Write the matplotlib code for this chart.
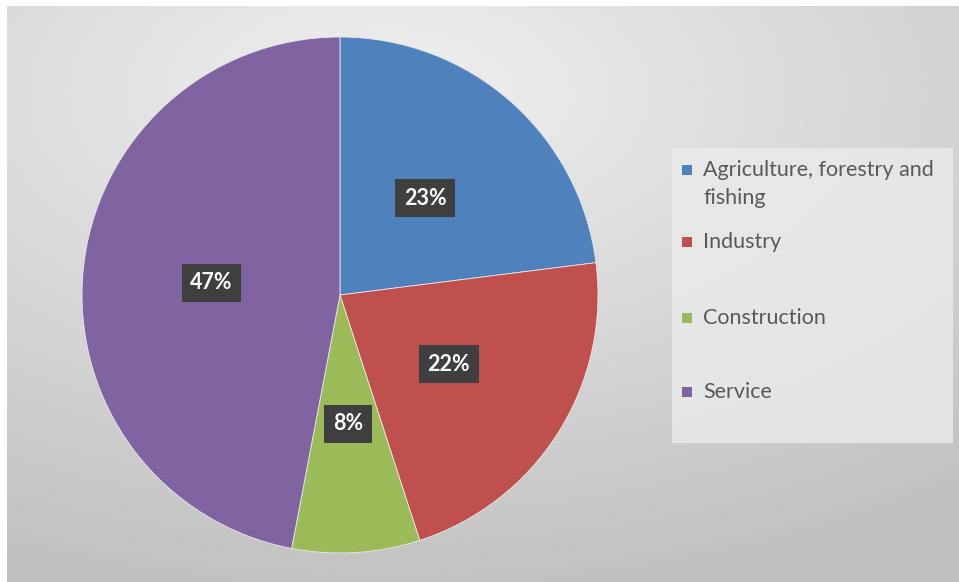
import numpy as np
import matplotlib as mpl
mpl.use('Agg')
import matplotlib.pyplot as plt
from matplotlib.patches import Rectangle

plt.rcParams['font.family'] = ['Lato', 'DejaVu Sans']

# data
categories = ['Agriculture, forestry and\nfishing', 'Industry', 'Construction', 'Service']
shares = [23, 22, 8, 47]
colors = ['#4F81BD', '#C0504D', '#9BBB59', '#8064A2']

W, H = 959, 582
fig = plt.figure(figsize=(W / 100, H / 100), dpi=100)
fig.patch.set_facecolor('white')

# grey radial background of the chart area
bg = fig.add_axes([7 / W, 0, 1 - 7 / W, 1 - 6 / H])
bg.set_axis_off()
yy, xx = np.mgrid[0:1:300j, 0:1:500j]
d = np.sqrt(((xx - 0.4) / 1.0) ** 2 + ((yy - 0.15) / 0.9) ** 2)
shade = 0.94 - 0.19 * np.clip(d / 1.0, 0, 1)
bg.imshow(shade, cmap='gray', vmin=0, vmax=1, aspect='auto',
          extent=[0, 1, 1, 0], interpolation='bicubic')

# pie
cx, cy, r = 340, 295, 258
ax = fig.add_axes([(cx - r) / W, (H - cy - r) / H, 2 * r / W, 2 * r / H])
wedges, texts, autotexts = ax.pie(
    shares, colors=colors, startangle=90, counterclock=False,
    autopct='%d%%', pctdistance=0.5, radius=1.0,
    wedgeprops=dict(edgecolor='#e8e8e8', linewidth=0.6),
    textprops=dict(color='white', fontsize=15.5, fontweight='bold'))
for t in autotexts:
    t.set_bbox(dict(boxstyle='square,pad=0.4', facecolor='#3f3f3f',
                    edgecolor='none'))
ax.set_xlim(-1, 1)
ax.set_ylim(-1, 1)
ax.set_aspect('equal')

# legend box
lx0, ly0, lx1, ly1 = 672, 148, 953, 443
fig.patches.append(Rectangle((lx0 / W, 1 - ly1 / H), (lx1 - lx0) / W,
                             (ly1 - ly0) / H, transform=fig.transFigure,
                             facecolor='#ebebeb', edgecolor='none', alpha=0.8))
entry_y = [170, 242, 318, 392]
for lab, c, y in zip(categories, colors, entry_y):
    fig.patches.append(Rectangle((682 / W, 1 - (y + 5) / H), 10 / W, 10 / H,
                                 transform=fig.transFigure, facecolor=c,
                                 edgecolor='none'))
    fig.text(703 / W, 1 - (y - 10) / H, lab, fontsize=15.5, color='#595959',
             va='top', ha='left', linespacing=1.5)

fig.savefig('out.png', dpi=100)
